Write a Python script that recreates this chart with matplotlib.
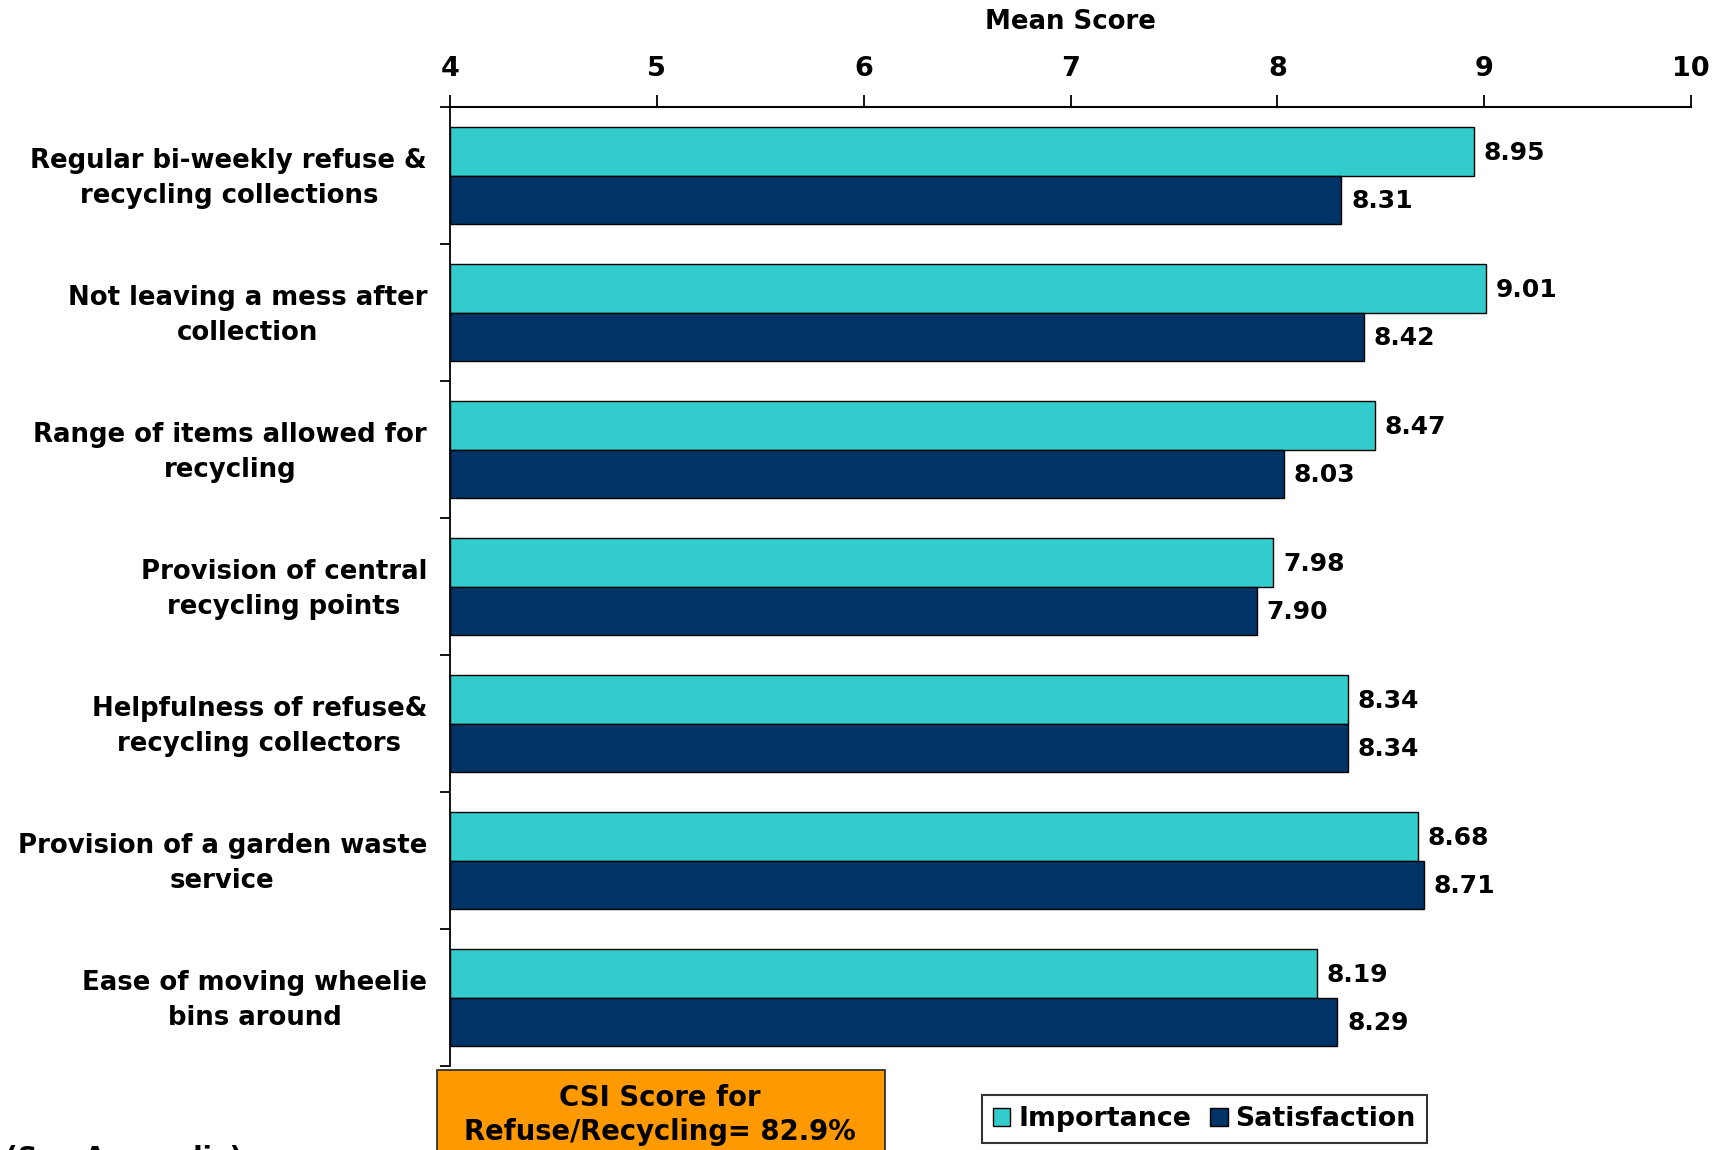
import matplotlib
matplotlib.use("Agg")
import matplotlib.pyplot as plt
import numpy as np
from matplotlib.patches import Rectangle

categories = [
    "Regular bi-weekly refuse &\nrecycling collections",
    "Not leaving a mess after\ncollection",
    "Range of items allowed for\nrecycling",
    "Provision of central\nrecycling points",
    "Helpfulness of refuse&\nrecycling collectors",
    "Provision of a garden waste\nservice",
    "Ease of moving wheelie\nbins around",
]
importance = [8.95, 9.01, 8.47, 7.98, 8.34, 8.68, 8.19]
satisfaction = [8.31, 8.42, 8.03, 7.90, 8.34, 8.71, 8.29]
series_names = ["Importance", "Satisfaction"]
x_ticks = [4, 5, 6, 7, 8, 9, 10]
csi_text = "CSI Score for\nRefuse/Recycling= 82.9%"

plt.rcParams["font.family"] = ["DejaVu Sans"]
plt.rcParams["font.weight"] = "bold"

W, H = 1726, 1150
fig = plt.figure(figsize=(W / 100, H / 100), dpi=100)
ax = fig.add_axes([450 / W, 1 - 1066 / H, (1691 - 450) / W, (1066 - 107) / H])

n = len(categories)
centers = np.arange(n) + 0.5
bh = 0.355
col_imp = "#33CCCC"
col_sat = "#003366"

b1 = ax.barh(centers - bh / 2, [v - 4 for v in importance], left=4, height=bh,
             color=col_imp, edgecolor="black", linewidth=1.0, label=series_names[0])
b2 = ax.barh(centers + bh / 2, [v - 4 for v in satisfaction], left=4, height=bh,
             color=col_sat, edgecolor="black", linewidth=1.0, label=series_names[1])

fs = 18
for y, v in zip(centers - bh / 2, importance):
    ax.annotate(f"{v:.2f}", (v, y), xytext=(7, -1), textcoords="offset points",
                va="center", ha="left", fontsize=fs, fontweight="bold")
for y, v in zip(centers + bh / 2, satisfaction):
    ax.annotate(f"{v:.2f}", (v, y), xytext=(7, -1), textcoords="offset points",
                va="center", ha="left", fontsize=fs, fontweight="bold")

ax.set_xlim(4, 10)
ax.set_ylim(n, 0)
ax.xaxis.tick_top()
ax.xaxis.set_label_position("top")
ax.set_xticks(x_ticks)
ax.set_xticklabels([str(t) for t in x_ticks], fontsize=19.5, fontweight="bold")
ax.tick_params(axis="x", direction="out", length=9, width=1.3, pad=9)
ax.set_xlabel("Mean Score", fontsize=18.7, fontweight="bold", labelpad=19.5)

# category boundaries as major ticks, labels on minor ticks near the centres
ax.set_yticks(np.arange(n + 1))
ax.set_yticklabels([])
ax.tick_params(axis="y", which="major", direction="out", length=7, width=1.3)
ax.set_yticks(centers - 0.035, minor=True)
ax.set_yticklabels(categories, minor=True, fontsize=18.7, fontweight="bold",
                   ha="right", multialignment="center", linespacing=1.45)
ax.tick_params(axis="y", which="minor", length=0, pad=16.5)

for s in ["right", "bottom"]:
    ax.spines[s].set_visible(False)
ax.spines["top"].set_linewidth(1.5)
ax.spines["left"].set_linewidth(1.3)

# CSI box
fig.patches.append(Rectangle((437 / W, 1 - 1170 / H), (885 - 437) / W, 100 / H,
                             transform=fig.transFigure, facecolor="#FF9900",
                             edgecolor="#222222", linewidth=1.2))
fig.text(660 / W, 1 - 1115 / H, csi_text, ha="center", va="center",
         fontsize=19.8, fontweight="bold", linespacing=1.3)

fig.text(5 / W, 1 - 1145 / H, "(See Appendix)", ha="left", va="top",
         fontsize=19.8, fontweight="bold")

leg = fig.legend(handles=[b1, b2], labels=series_names, loc="center",
                 bbox_to_anchor=((986 + 1423) / 2 / W, 1 - 1119 / H), ncol=2,
                 frameon=True, fancybox=False, edgecolor="black",
                 prop={"size": 19.3, "weight": "bold"}, handlelength=0.65,
                 handleheight=0.65, handletextpad=0.3, columnspacing=0.7,
                 borderpad=0.4, borderaxespad=0)
leg.get_frame().set_linewidth(1.5)

fig.savefig("out.png", dpi=100)
